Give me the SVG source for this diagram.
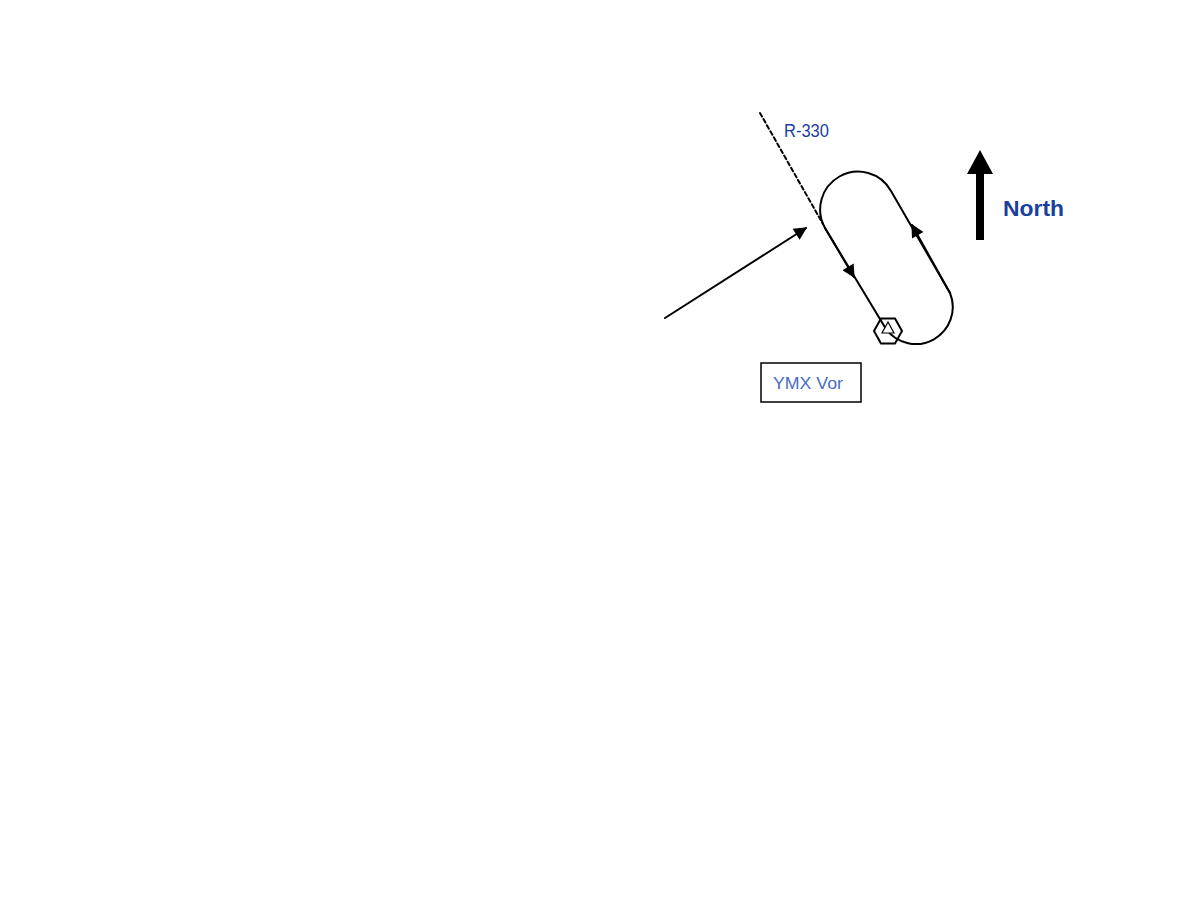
<svg xmlns="http://www.w3.org/2000/svg" width="1188" height="918" viewBox="0 0 1188 918">
<style>
.ln{fill:none;stroke:#000;stroke-width:2;stroke-linejoin:round;stroke-linecap:round}
.lbl{font-family:"Liberation Sans",Arial,sans-serif;fill:#1a3f9c}
</style>
<defs>
<marker id="ah" viewBox="0 0 10 10" refX="9" refY="5" markerWidth="16" markerHeight="13" markerUnits="userSpaceOnUse" orient="auto">
<path d="M0,0 L10,5 L0,10 Z" fill="#000"/>
</marker>
</defs>
<rect width="1188" height="918" fill="#fff"/>
<g id="connectors">
<line id="radial" x1="760" y1="113" x2="823" y2="224" class="ln" stroke-width="1.5" stroke-dasharray="4,3"/>
<path id="racetrack" class="ln" d="M825,228 L886,329 A37 37 0 0 0 950,293 L891,191 A37 37 0 0 0 825,228 Z"/>
<line id="inbound-arrow" x1="825" y1="228" x2="854" y2="277" class="ln" marker-end="url(#ah)"/>
<line id="outbound-arrow" x1="950" y1="293" x2="912" y2="225" class="ln" marker-end="url(#ah)"/>
<line id="entry" x1="665" y1="318" x2="806" y2="228" class="ln" marker-end="url(#ah)"/>
</g>
<g id="vor">
<polygon points="874,331 881,318.5 895,318.5 902,331 895,343.5 881,343.5" fill="none" stroke="#000" stroke-width="2"/>
<polygon points="888,322 882,333 894,333" fill="#fff" stroke="#000" stroke-width="1.2"/>
</g>
<g id="north">
<rect x="976" y="172" width="8" height="68" fill="#000"/>
<polygon points="980,150 967,174 993,174" fill="#000"/>
<text x="1003" y="216" class="lbl" font-size="22" font-weight="bold" textLength="61" lengthAdjust="spacingAndGlyphs">North</text>
</g>
<g id="r330">
<text x="784" y="137" class="lbl" font-size="19" textLength="45" lengthAdjust="spacingAndGlyphs">R-330</text>
</g>
<g id="ymx-label">
<rect x="761" y="363" width="100" height="39" fill="#fff" stroke="#000" stroke-width="1.5"/>
<text x="773" y="389" class="lbl" font-size="16" style="fill:#4a6cc0" textLength="70" lengthAdjust="spacingAndGlyphs">YMX Vor</text>
</g>
</svg>
